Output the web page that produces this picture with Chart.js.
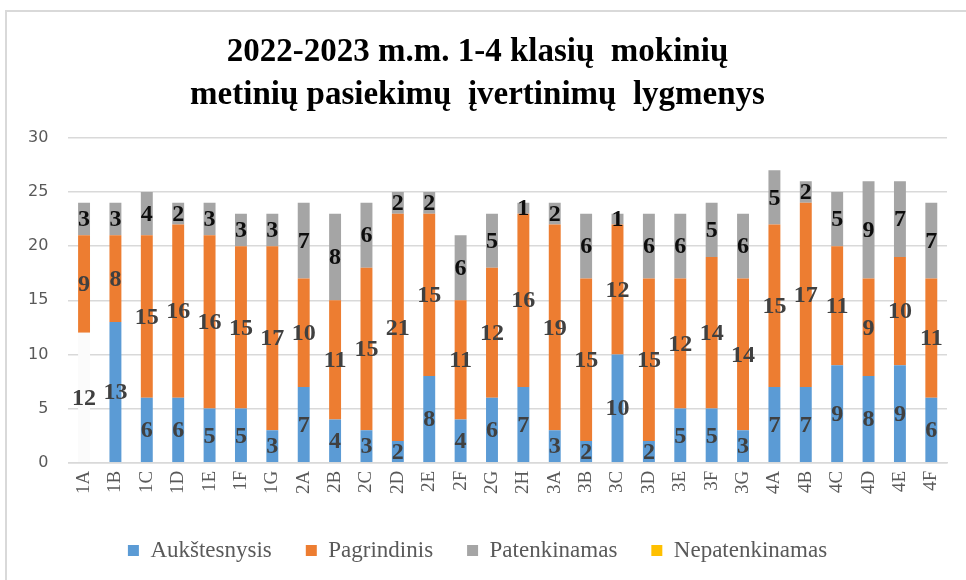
<!DOCTYPE html>
<html>
<head>
<meta charset="utf-8">
<script src="https://cdn.jsdelivr.net/npm/chart.js@4/dist/chart.umd.min.js"></script>
<style>
  body { margin: 0; background: #fff; }
  #frame { position: absolute; left: 5px; top: 10px; width: 970px; height: 580px; border: 2px solid #d9d9d9; box-sizing: border-box; }
  #wrap { position: absolute; left: 0; top: 0; width: 966px; height: 580px; }
</style>
</head>
<body>
<div id="frame"></div>
<div id="wrap"><canvas id="myChart"></canvas></div>
<script>
// class names along the x axis
let classes = ['1A','1B','1C','1D','1E','1F','1G',
               '2A','2B','2C','2D','2E','2F','2G','2H',
               '3A','3B','3C','3D','3E','3F','3G',
               '4A','4B','4C','4D','4E','4F'];

// number of pupils per level
let aukstesnysis  = [12,13,6,6,5,5,3, 7,4,3,2,8,4,6,7, 3,2,10,2,5,5,3, 7,7,9,8,9,6];
let pagrindinis   = [9,8,15,16,16,15,17, 10,11,15,21,15,11,12,16, 19,15,12,15,12,14,14, 15,17,11,9,10,11];
let patenkinamas  = [3,3,4,2,3,3,3, 7,8,6,2,2,6,5,1, 2,6,1,6,6,5,6, 5,2,5,9,7,7];
let nepatenkinamas = [0,0,0,0,0,0,0, 0,0,0,0,0,0,0,0, 0,0,0,0,0,0,0, 0,0,0,0,0,0];

let yTicks = [0, 5, 10, 15, 20, 25, 30];

let colors = ['#5b9bd5', '#ed7d31', '#a5a5a5', '#ffc000'];

// 1A first segment has no fill in the original
let blueFill = aukstesnysis.map(function(v, i) { return i === 0 ? '#fbfbfb' : colors[0]; });

// draws the numbers in the middle of each segment
let valueLabels = {
  id: 'valueLabels',
  afterDatasetsDraw: function(chart) {
    let ctx = chart.ctx;
    ctx.save();
    ctx.font = 'bold 24px "Liberation Serif", serif';
    ctx.textAlign = 'center';
    ctx.textBaseline = 'middle';
    chart.data.datasets.forEach(function(ds, di) {
      if (di === 3) return;
      let meta = chart.getDatasetMeta(di);
      meta.data.forEach(function(bar, i) {
        let v = ds.data[i];
        if (!v) return;
        ctx.fillStyle = di === 2 ? '#0d0d0d' : '#404040';
        ctx.fillText(v, bar.x, (bar.y + bar.base) / 2 + 1);
      });
    });
    ctx.restore();
  }
};

let options = {
  type: 'bar',
  data: {
    labels: classes,
    datasets: [
      { label: 'Aukštesnysis', data: aukstesnysis, backgroundColor: blueFill },
      { label: 'Pagrindinis', data: pagrindinis, backgroundColor: colors[1] },
      { label: 'Patenkinamas', data: patenkinamas, backgroundColor: colors[2] },
      { label: 'Nepatenkinamas', data: nepatenkinamas, backgroundColor: colors[3] }
    ]
  },
  options: {
    responsive: true,
    maintainAspectRatio: false,
    animation: false,
    layout: { padding: { left: 8, right: 19, top: 31, bottom: 8 } },
    datasets: { bar: { barPercentage: 0.38, categoryPercentage: 1.0 } },
    plugins: {
      title: {
        display: true,
        text: ['2022-2023 m.m. 1-4 klasių  mokinių', 'metinių pasiekimų  įvertinimų  lygmenys'],
        font: { family: '"Liberation Serif", serif', size: 33, weight: 'bold', lineHeight: 1.3 },
        color: '#000',
        padding: { top: 0, bottom: 21 }
      },
      legend: {
        position: 'bottom',
        labels: {
          boxWidth: 11, boxHeight: 11, padding: 34,
          font: { family: '"Liberation Serif", serif', size: 23 },
          color: '#595959',
          generateLabels: function(chart) {
            return chart.data.datasets.map(function(ds, i) {
              return { text: ds.label, fillStyle: colors[i], strokeStyle: colors[i], lineWidth: 0, datasetIndex: i, fontColor: '#595959' };
            });
          }
        }
      },
      tooltip: { enabled: false }
    },
    scales: {
      x: {
        stacked: true,
        grid: { display: false },
        border: { color: '#d9d9d9', width: 1.5 },
        afterFit: function(scale) { scale.height += 11; },
        ticks: {
          minRotation: 90, maxRotation: 90, padding: 0,
          font: { family: '"Liberation Serif", serif', size: 19 },
          color: '#595959'
        }
      },
      y: {
        stacked: true,
        min: 0, max: 30,
        afterBuildTicks: function(axis) { axis.ticks = yTicks.map(function(v) { return { value: v }; }); },
        grid: { color: '#d9d9d9', lineWidth: 1.5, drawTicks: false },
        border: { display: false },
        ticks: {
          padding: 20,
          font: { family: '"DejaVu Sans", sans-serif', size: 16 },
          color: '#595959'
        }
      }
    }
  },
  plugins: [valueLabels]
};

let mChart = new Chart(document.getElementById('myChart'), options);
</script>
</body>
</html>
